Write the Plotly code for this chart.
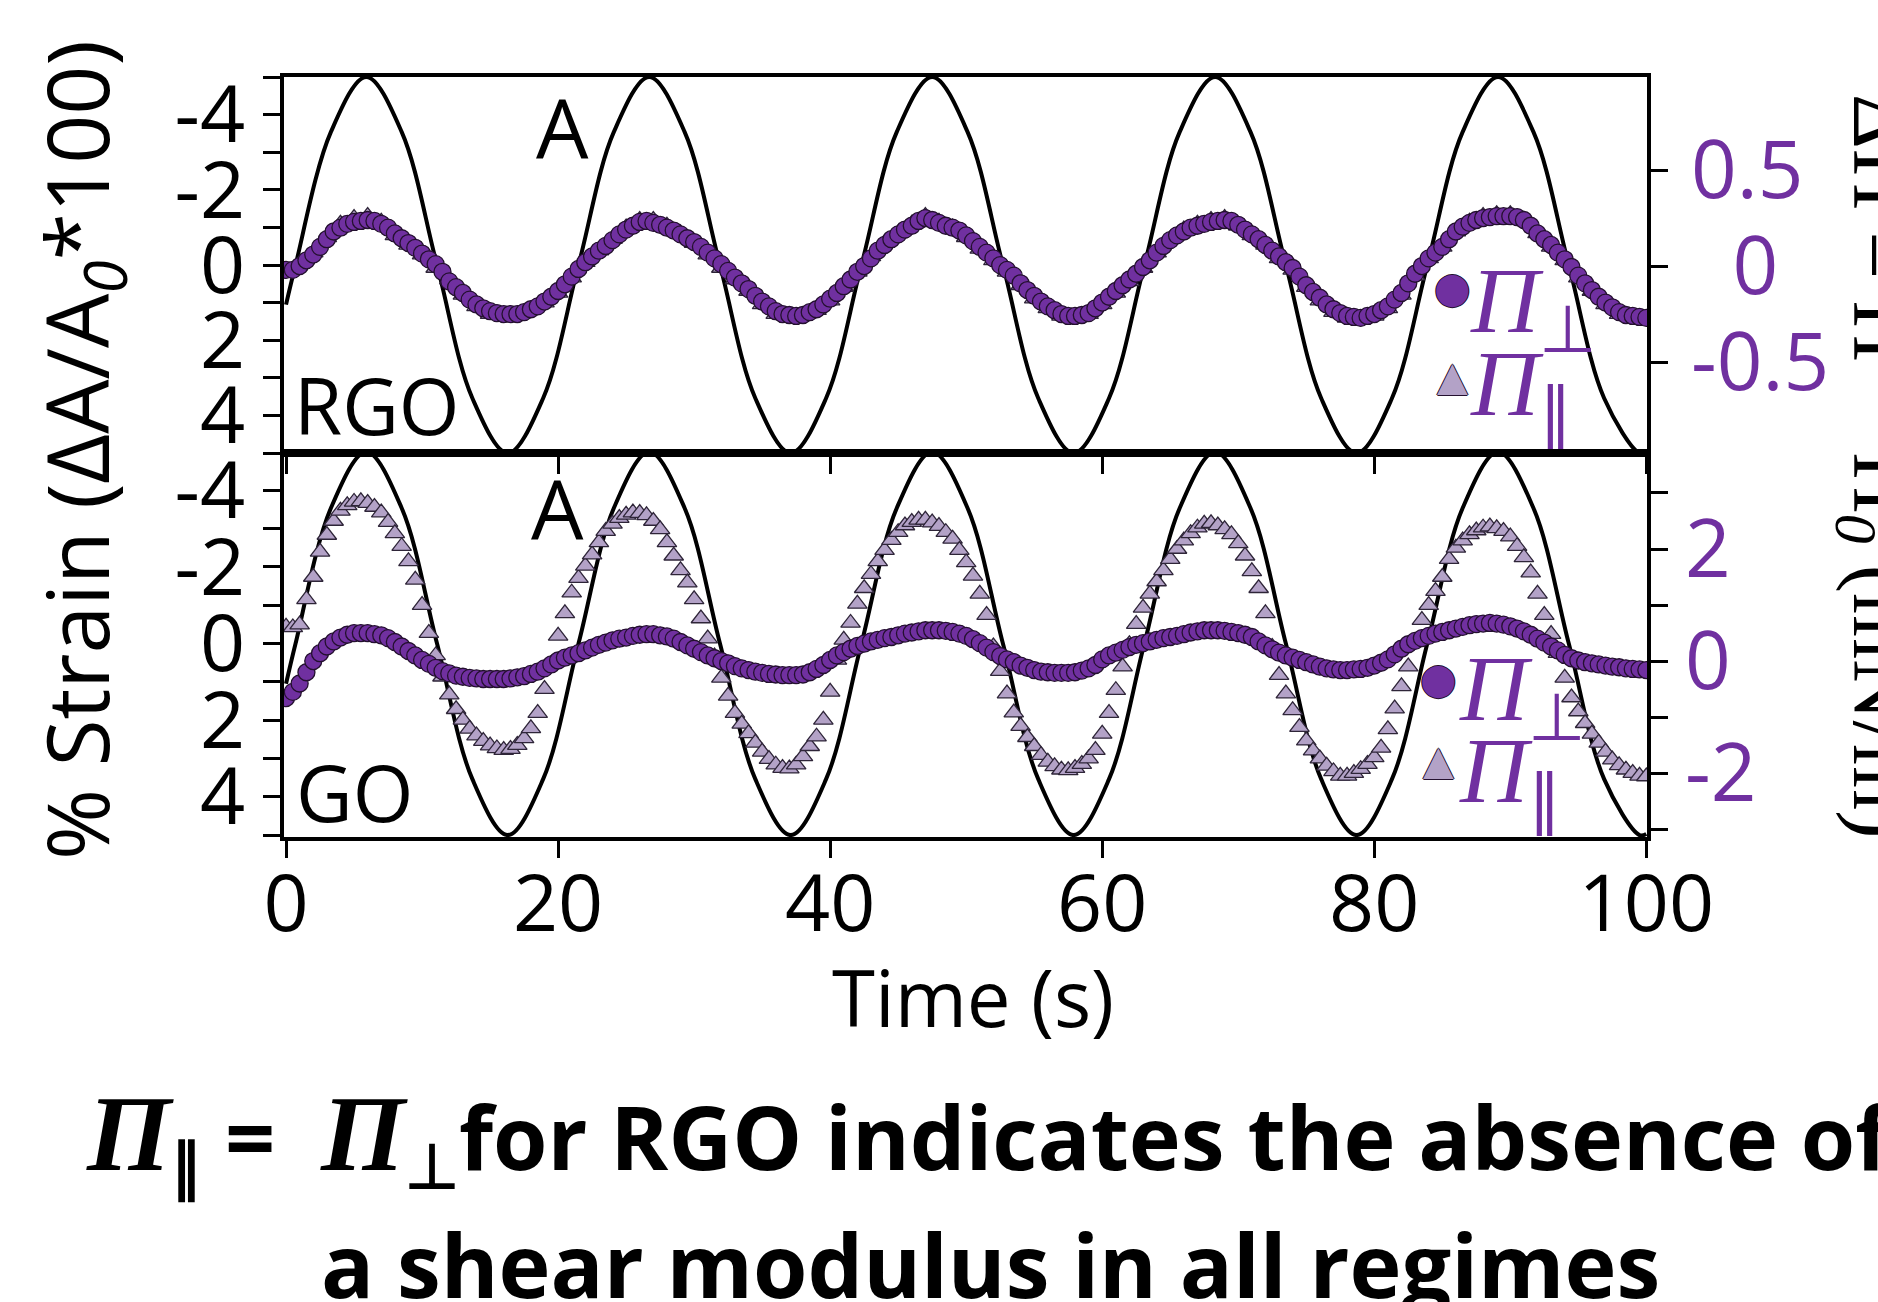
import plotly.graph_objects as go
from plotly.subplots import make_subplots

# ---------------- data ----------------
# applied strain (% , left axis, reversed) — read at quarter/eighth-period points
strain_time_s = [0, 0.7, 3.3, 5.9, 8.5, 11.1, 13.7, 16.3, 18.9, 21.5, 24.1, 26.7, 29.3, 31.9,
                 34.5, 37.1, 39.7, 42.3, 44.9, 47.5, 50.1, 52.7, 55.3, 57.9, 60.5, 63.1, 65.7,
                 68.3, 70.9, 73.5, 76.1, 78.7, 81.3, 83.9, 86.5, 89.1, 91.7, 94.3, 96.9, 99.5, 100]
strain_pct = [1.05, 0, -3.54, -5, -3.54, 0, 3.54, 5, 3.54, 0, -3.54, -5, -3.54, 0,
              3.54, 5, 3.54, 0, -3.54, -5, -3.54, 0, 3.54, 5, 3.54, 0, -3.54,
              -5, -3.54, 0, 3.54, 5, 3.54, 0, -3.54, -5, -3.54, 0, 3.54, 5, 4.97]

time_half_s = [
    0, 0.5, 1, 1.5, 2, 2.5, 3, 3.5, 4, 4.5,
    5, 5.5, 6, 6.5, 7, 7.5, 8, 8.5, 9, 9.5,
    10, 10.5, 11, 11.5, 12, 12.5, 13, 13.5, 14, 14.5,
    15, 15.5, 16, 16.5, 17, 17.5, 18, 18.5, 19, 19.5,
    20, 20.5, 21, 21.5, 22, 22.5, 23, 23.5, 24, 24.5,
    25, 25.5, 26, 26.5, 27, 27.5, 28, 28.5, 29, 29.5,
    30, 30.5, 31, 31.5, 32, 32.5, 33, 33.5, 34, 34.5,
    35, 35.5, 36, 36.5, 37, 37.5, 38, 38.5, 39, 39.5,
    40, 40.5, 41, 41.5, 42, 42.5, 43, 43.5, 44, 44.5,
    45, 45.5, 46, 46.5, 47, 47.5, 48, 48.5, 49, 49.5,
    50, 50.5, 51, 51.5, 52, 52.5, 53, 53.5, 54, 54.5,
    55, 55.5, 56, 56.5, 57, 57.5, 58, 58.5, 59, 59.5,
    60, 60.5, 61, 61.5, 62, 62.5, 63, 63.5, 64, 64.5,
    65, 65.5, 66, 66.5, 67, 67.5, 68, 68.5, 69, 69.5,
    70, 70.5, 71, 71.5, 72, 72.5, 73, 73.5, 74, 74.5,
    75, 75.5, 76, 76.5, 77, 77.5, 78, 78.5, 79, 79.5,
    80, 80.5, 81, 81.5, 82, 82.5, 83, 83.5, 84, 84.5,
    85, 85.5, 86, 86.5, 87, 87.5, 88, 88.5, 89, 89.5,
    90, 90.5, 91, 91.5, 92, 92.5, 93, 93.5, 94, 94.5,
    95, 95.5, 96, 96.5, 97, 97.5, 98, 98.5, 99, 99.5,
    100]

time_1s = [
    0, 1, 2, 3, 4, 5, 6, 7, 8, 9, 10, 11, 12, 13, 14, 15, 16, 17, 18, 19,
    20, 21, 22, 23, 24, 25, 26, 27, 28, 29, 30, 31, 32, 33, 34, 35, 36, 37, 38, 39,
    40, 41, 42, 43, 44, 45, 46, 47, 48, 49, 50, 51, 52, 53, 54, 55, 56, 57, 58, 59,
    60, 61, 62, 63, 64, 65, 66, 67, 68, 69, 70, 71, 72, 73, 74, 75, 76, 77, 78, 79,
    80, 81, 82, 83, 84, 85, 86, 87, 88, 89, 90, 91, 92, 93, 94, 95, 96, 97, 98, 99,
    100]

# RGO surface pressure change (mN/m, right axis)
rgo_pi_perp = [
    -0.02, -0.02, 0.00, 0.03, 0.06, 0.10, 0.14, 0.18, 0.20, 0.22,
    0.23, 0.235, 0.24, 0.235, 0.22, 0.20, 0.17, 0.145, 0.12, 0.095,
    0.065, 0.035, 0.01, -0.03, -0.08, -0.11, -0.14, -0.175, -0.20, -0.22,
    -0.235, -0.245, -0.25, -0.25, -0.25, -0.24, -0.225, -0.21, -0.185, -0.16,
    -0.13, -0.095, -0.055, -0.015, 0.02, 0.05, 0.08, 0.105, 0.135, 0.165,
    0.19, 0.21, 0.23, 0.235, 0.225, 0.215, 0.20, 0.185, 0.165, 0.145,
    0.125, 0.10, 0.07, 0.04, 0.01, -0.025, -0.06, -0.09, -0.12, -0.155,
    -0.185, -0.21, -0.235, -0.25, -0.255, -0.26, -0.255, -0.24, -0.225, -0.20,
    -0.17, -0.14, -0.105, -0.07, -0.03, 0.00, 0.04, 0.08, 0.11, 0.14,
    0.165, 0.19, 0.21, 0.235, 0.25, 0.24, 0.225, 0.21, 0.20, 0.185,
    0.16, 0.13, 0.10, 0.07, 0.04, 0.005, -0.02, -0.05, -0.09, -0.125,
    -0.155, -0.185, -0.21, -0.23, -0.25, -0.26, -0.26, -0.255, -0.245, -0.22,
    -0.19, -0.16, -0.13, -0.10, -0.07, -0.04, -0.005, 0.03, 0.07, 0.105,
    0.135, 0.16, 0.18, 0.20, 0.21, 0.22, 0.23, 0.235, 0.24, 0.235,
    0.215, 0.19, 0.165, 0.14, 0.11, 0.08, 0.05, 0.02, -0.01, -0.055,
    -0.10, -0.135, -0.165, -0.20, -0.225, -0.245, -0.26, -0.265, -0.27, -0.26,
    -0.25, -0.23, -0.21, -0.175, -0.14, -0.09, -0.04, 0.00, 0.04, 0.07,
    0.10, 0.14, 0.18, 0.205, 0.225, 0.24, 0.25, 0.255, 0.26, 0.26,
    0.26, 0.255, 0.24, 0.21, 0.17, 0.14, 0.11, 0.07, 0.035, -0.005,
    -0.05, -0.09, -0.125, -0.16, -0.19, -0.215, -0.24, -0.255, -0.26, -0.265,
    -0.27]

rgo_pi_par = [
    -0.03, 0.01, 0.07, 0.15, 0.22, 0.25, 0.26, 0.23, 0.16, 0.11,
    0.06, -0.01, -0.07, -0.15, -0.21, -0.25, -0.26, -0.26, -0.23, -0.19,
    -0.14, -0.06, 0.02, 0.08, 0.14, 0.20, 0.24, 0.24, 0.21, 0.17,
    0.12, 0.06, -0.01, -0.07, -0.13, -0.20, -0.25, -0.27, -0.26, -0.23,
    -0.18, -0.11, -0.03, 0.05, 0.12, 0.17, 0.22, 0.26, 0.23, 0.20,
    0.15, 0.09, 0.03, -0.03, -0.10, -0.17, -0.22, -0.26, -0.27, -0.25,
    -0.20, -0.14, -0.08, -0.01, 0.07, 0.14, 0.19, 0.22, 0.24, 0.25,
    0.21, 0.16, 0.11, 0.04, -0.02, -0.11, -0.18, -0.24, -0.27, -0.28,
    -0.26, -0.22, -0.15, -0.05, 0.04, 0.10, 0.18, 0.23, 0.26, 0.27,
    0.27, 0.24, 0.17, 0.10, 0.03, -0.06, -0.13, -0.20, -0.25, -0.27,
    -0.28]

# GO surface pressure change (mN/m, right axis)
go_pi_perp = [
    -0.66, -0.55, -0.40, -0.20, 0.00, 0.14, 0.26, 0.35, 0.42, 0.47,
    0.50, 0.50, 0.50, 0.48, 0.46, 0.41, 0.34, 0.26, 0.18, 0.10,
    0.02, -0.05, -0.12, -0.18, -0.22, -0.26, -0.28, -0.30, -0.31, -0.32,
    -0.32, -0.32, -0.32, -0.31, -0.29, -0.27, -0.23, -0.19, -0.13, -0.06,
    0.01, 0.06, 0.10, 0.14, 0.19, 0.24, 0.29, 0.33, 0.37, 0.40,
    0.42, 0.45, 0.47, 0.48, 0.48, 0.46, 0.44, 0.40, 0.34, 0.28,
    0.22, 0.16, 0.10, 0.05, 0.00, -0.04, -0.09, -0.13, -0.16, -0.19,
    -0.21, -0.23, -0.24, -0.25, -0.25, -0.25, -0.24, -0.20, -0.14, -0.07,
    0.02, 0.10, 0.16, 0.22, 0.27, 0.31, 0.35, 0.38, 0.41, 0.43,
    0.46, 0.49, 0.51, 0.53, 0.55, 0.55, 0.55, 0.54, 0.52, 0.49,
    0.45, 0.39, 0.32, 0.24, 0.16, 0.09, 0.03, -0.02, -0.08, -0.12,
    -0.16, -0.19, -0.20, -0.21, -0.21, -0.21, -0.20, -0.17, -0.13, -0.07,
    0.03, 0.10, 0.15, 0.20, 0.25, 0.29, 0.32, 0.35, 0.38, 0.41,
    0.43, 0.45, 0.48, 0.51, 0.53, 0.55, 0.55, 0.55, 0.54, 0.52,
    0.50, 0.47, 0.43, 0.35, 0.28, 0.21, 0.15, 0.10, 0.06, 0.02,
    -0.02, -0.06, -0.10, -0.13, -0.15, -0.16, -0.16, -0.15, -0.14, -0.12,
    -0.08, -0.03, 0.03, 0.12, 0.22, 0.30, 0.36, 0.41, 0.45, 0.49,
    0.52, 0.55, 0.58, 0.61, 0.64, 0.66, 0.67, 0.68, 0.67, 0.65,
    0.62, 0.58, 0.53, 0.47, 0.40, 0.33, 0.26, 0.19, 0.11, 0.05,
    0.01, -0.02, -0.04, -0.06, -0.08, -0.10, -0.11, -0.13, -0.14, -0.15,
    -0.16]

go_pi_par = [
    0.61, 0.60, 0.65, 1.10, 1.50, 1.95, 2.25, 2.50, 2.68, 2.78,
    2.84, 2.85, 2.82, 2.75, 2.65, 2.48, 2.28, 2.05, 1.78, 1.45,
    1.00, 0.50, 0.10, -0.28, -0.60, -0.86, -1.05, -1.21, -1.33, -1.43,
    -1.51, -1.56, -1.59, -1.57, -1.50, -1.38, -1.20, -0.93, -0.50, -0.05,
    0.45, 0.85, 1.22, 1.48, 1.70, 1.90, 2.12, 2.32, 2.45, 2.55,
    2.61, 2.65, 2.64, 2.60, 2.50, 2.35, 2.12, 1.88, 1.62, 1.40,
    1.10, 0.76, 0.40, 0.08, -0.30, -0.62, -0.93, -1.12, -1.29, -1.46,
    -1.62, -1.75, -1.85, -1.91, -1.92, -1.85, -1.70, -1.52, -1.35, -1.05,
    -0.55, 0.02, 0.38, 0.68, 1.02, 1.30, 1.55, 1.78, 1.98, 2.16,
    2.30, 2.42, 2.48, 2.52, 2.52, 2.47, 2.41, 2.30, 2.18, 1.98,
    1.76, 1.52, 1.20, 0.82, 0.26, -0.18, -0.58, -0.92, -1.16, -1.36,
    -1.52, -1.68, -1.80, -1.88, -1.94, -1.95, -1.91, -1.84, -1.74, -1.59,
    -1.30, -0.93, -0.52, -0.10, 0.30, 0.66, 0.95, 1.20, 1.42, 1.62,
    1.82, 2.00, 2.15, 2.28, 2.38, 2.45, 2.46, 2.42, 2.35, 2.26,
    2.10, 1.88, 1.60, 1.30, 0.85, 0.25, -0.25, -0.58, -0.88, -1.18,
    -1.42, -1.60, -1.74, -1.87, -1.97, -2.05, -2.05, -2.00, -1.93, -1.84,
    -1.72, -1.55, -1.22, -0.85, -0.45, -0.10, 0.35, 0.73, 1.00, 1.25,
    1.50, 1.82, 2.02, 2.15, 2.26, 2.33, 2.38, 2.40, 2.37, 2.32,
    2.22, 2.05, 1.85, 1.58, 1.20, 0.82, 0.48, 0.14, -0.30, -0.65,
    -0.90, -1.11, -1.30, -1.46, -1.62, -1.76, -1.86, -1.94, -2.00, -2.05,
    -2.06]

x_tickvals = [0, 20, 40, 60, 80, 100]
strain_tickvals = [-5, -4, -3, -2, -1, 0, 1, 2, 3, 4, 5]
strain_ticktext = ["", "-4", "", "-2", "", "0", "", "2", "", "4", ""]
rgo_tickvals = [-0.5, 0, 0.5]
rgo_ticktext = ["-0.5", "\u00a0\u00a00", "0.5"]
go_tickvals = [-3, -2, -1, 0, 1, 2, 3]
go_ticktext = ["", "-2", "", "0", "", "2", ""]

# ---------------- styling ----------------
PURPLE = "#7030A0"
LAVENDER = "#B3A2C7"
CIRCLE_EDGE = "#24102f"
TRI_EDGE = "#2e2538"
SANS = "Open Sans"
SERIF = "Liberation Serif"

W, H = 1878, 1302
L, R, T, B = 284, 1647, 77, 837


def px_x(p):
    return (p - L) / (R - L)


def px_y(p):
    return (B - p) / (B - T)


fig = make_subplots(rows=2, cols=1, shared_xaxes=True, vertical_spacing=0,
                    row_heights=[0.495, 0.505],
                    specs=[[{"secondary_y": True}], [{"secondary_y": True}]])

for row, par_t, par_v, perp_v in [(1, time_1s, rgo_pi_par, rgo_pi_perp),
                                  (2, time_half_s, go_pi_par, go_pi_perp)]:
    fig.add_trace(go.Scatter(x=strain_time_s, y=strain_pct, mode="lines",
                             line=dict(color="black", width=4, shape="spline", smoothing=1.0),
                             showlegend=False, hoverinfo="skip"),
                  row=row, col=1, secondary_y=False)
    fig.add_trace(go.Scatter(x=par_t, y=par_v, mode="markers", name="Π∥",
                             marker=dict(symbol="triangle-up", size=17, color=LAVENDER,
                                         line=dict(color=TRI_EDGE, width=1.3)),
                             showlegend=False),
                  row=row, col=1, secondary_y=True)
    fig.add_trace(go.Scatter(x=time_half_s, y=perp_v, mode="markers", name="Π⊥",
                             marker=dict(symbol="circle", size=17, color=PURPLE,
                                         line=dict(color=CIRCLE_EDGE, width=1.3)),
                             showlegend=False),
                  row=row, col=1, secondary_y=True)

axis_common = dict(showline=True, linewidth=4, linecolor="black", ticks="outside",
                   ticklen=17, tickwidth=3, tickcolor="black", showgrid=False,
                   zeroline=False, automargin=False)

fig.update_xaxes(domain=[0, 1], range=[-0.15, 100.05], mirror=True, tickvals=x_tickvals,
                 tickfont=dict(family=SANS, size=79, color="black"), **axis_common)
fig.update_xaxes(showticklabels=False, row=1, col=1)
fig.update_xaxes(ticklabelstandoff=-22, row=2, col=1)

fig.update_yaxes(range=[5, -5], tickvals=strain_tickvals, ticktext=strain_ticktext,
                 tickfont=dict(family=SANS, size=79, color="black"), ticklabelstandoff=2,
                 row=1, col=1, secondary_y=False, **axis_common)
fig.update_yaxes(range=[5.05, -4.97], tickvals=strain_tickvals, ticktext=strain_ticktext,
                 tickfont=dict(family=SANS, size=79, color="black"), ticklabelstandoff=2,
                 row=2, col=1, secondary_y=False, **axis_common)
fig.update_yaxes(range=[-0.975, 0.985], tickvals=rgo_tickvals, ticktext=rgo_ticktext,
                 tickfont=dict(family=SANS, size=80, color=PURPLE), ticklabelstandoff=7,
                 row=1, col=1, secondary_y=True, **axis_common)
fig.update_yaxes(range=[-3.14, 3.71], tickvals=go_tickvals, ticktext=go_ticktext,
                 tickfont=dict(family=SANS, size=80, color=PURPLE), ticklabelstandoff=1,
                 row=2, col=1, secondary_y=True, **axis_common)

ann = []


def text(t, x, y, size, family=SANS, color="black", xanchor="center", yanchor="top",
         angle=0, shadow=None):
    font = dict(family=family, size=size, color=color)
    if shadow:
        font["shadow"] = shadow
    ann.append(dict(text=t, x=px_x(x), y=px_y(y), xref="paper", yref="paper",
                    xanchor=xanchor, yanchor=yanchor, showarrow=False, font=font,
                    textangle=angle))


# panel labels
text("A", 562, 68, 83)
text("A", 557, 449, 83)
text("RGO", 292, 350, 78, xanchor="left")
text("GO", 294, 737, 78, xanchor="left")

# legend entries
edge = "1px 0 0 #24102f, -1px 0 0 #24102f, 0 1px 0 #24102f, 0 -1px 0 #24102f"
for cx, cy_c, cy_t, tx, ty1, ty2 in [(1452, 287, 376, 1468, 246, 329),
                                     (1438, 678, 760, 1457, 634, 716)]:
    text("●", cx, cy_c, 42, family="DejaVu Sans", color=PURPLE, yanchor="middle", shadow=edge)
    text("▲", cx, cy_t, 40, family="DejaVu Sans", color=LAVENDER, yanchor="middle", shadow=edge)
    text("<i>Π</i><sub>⊥</sub>", tx, ty1, 94, family=SERIF, color=PURPLE, xanchor="left")
    text("<i>Π</i><sub>∥</sub>", tx, ty2, 94, family=SERIF, color=PURPLE, xanchor="left")

# axis titles
text("% Strain (ΔA/A<sub><i>0</i></sub>*100)", 81, 450, 86, yanchor="middle", angle=-90)
text("Time (s)", 973, 942, 78)
text("ΔΠ = Π − Π<sub><i>0</i></sub> (mN/m)", 1877, 466, 85, family=SERIF,
     yanchor="middle", angle=90)

# caption
pi_b = "<span style=\"font-family:'Liberation Serif';font-size:108px\"><i>Π</i></span>"
text("<b>" + pi_b + "<sub>∥</sub>\u00a0=\u00a0 " + pi_b
     + "<sub>⊥</sub>for RGO indicates the absence of</b>",
     84, 1072, 88, xanchor="left")
text("<b>a shear modulus in all regimes</b>", 990, 1202, 88)

fig.update_layout(width=W, height=H, margin=dict(l=L, r=W - R, t=T, b=H - B),
                  paper_bgcolor="white", plot_bgcolor="white", showlegend=False,
                  annotations=ann)

fig.write_html("out.html")
